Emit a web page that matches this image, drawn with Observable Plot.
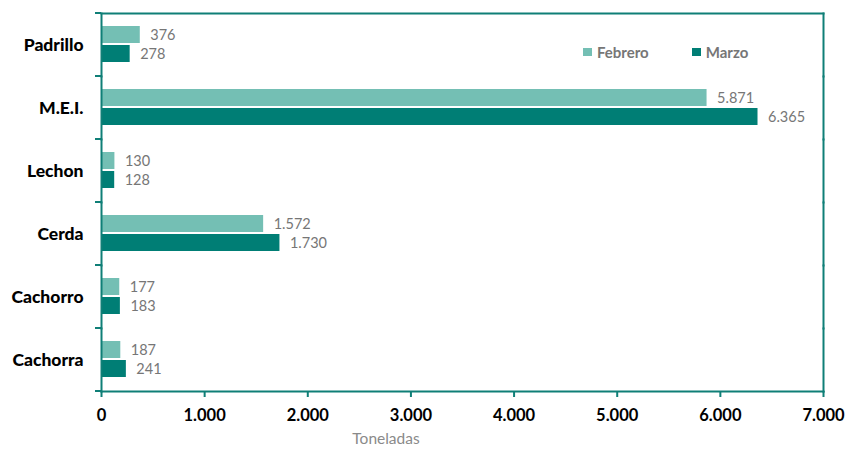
<!DOCTYPE html>
<html><head><meta charset="utf-8">
<script src="https://cdn.jsdelivr.net/npm/d3@7"></script>
<script src="https://cdn.jsdelivr.net/npm/@observablehq/plot@0.6"></script>
<style>
body{margin:0;background:#fff;font-family:Lato,"Open Sans",sans-serif}
#wrap{position:relative;width:848px;height:451px}
.legend{position:absolute;top:43px;left:583px;display:flex;font-weight:bold;font-size:15px;color:#767676}
.legend .item{display:flex;align-items:center;margin-right:43px}
.legend .sw{width:9px;height:8px;margin-right:5px}
.xlabel{position:absolute;left:316px;width:140px;top:429px;text-align:center;font-size:15.5px;color:#8a8a8a}
</style></head><body><div id="wrap"></div>
<script>
const categories = ["Padrillo","M.E.I.","Lechon","Cerda","Cachorro","Cachorra"];
const series = ["Febrero","Marzo"];
const febrero = [376,5871,130,1572,177,187];
const marzo = [278,6365,128,1730,183,241];
const xTicks = [0,1000,2000,3000,4000,5000,6000,7000];
const colors = ["#74bfb4","#007e75"];
const axisTitle = "Toneladas";

const data = categories.flatMap((c,i)=>[
  {cat:c, serie:series[0], value:febrero[i]},
  {cat:c, serie:series[1], value:marzo[i]}
]);
const loc = d3.formatLocale({decimal:",",thousands:".",grouping:[3],currency:["",""]});
const fmt = loc.format(",d");
const teal = "#0f7f77";

const chart = Plot.plot({
  width:848, height:451, marginLeft:101, marginRight:25, marginTop:10, marginBottom:58,
  style:{fontFamily:"Lato, 'Open Sans', sans-serif", background:"#fff"},
  x:{domain:[0,7000], label:null},
  y:{domain:series, axis:null, paddingInner:0.1, paddingOuter:0.69},
  fy:{domain:categories, padding:0, label:null, axis:null},
  color:{domain:series, range:colors},
  marks:[
    Plot.barX(data,{fy:"cat", y:"serie", x:"value", fill:"serie"}),
    Plot.text(data,{fy:"cat", y:"serie", x:"value", text:d=>fmt(d.value), textAnchor:"start", dx:10, fill:"#767676", fontSize:14.5}),
    Plot.axisX({ticks:xTicks, tickFormat:fmt, tickSize:6, stroke:teal, strokeWidth:2, fill:"#000", fontWeight:"bold", fontSize:16.5, tickPadding:12, label:null}),
    Plot.axisFy({anchor:"left", tickSize:0, tickPadding:18, fontWeight:900, fontSize:17.5, fill:"#000", label:null}),
    Plot.frame({anchor:"left", stroke:teal, strokeWidth:2}),
    Plot.frame({anchor:"right", stroke:teal, strokeWidth:2}),
    Plot.frame({anchor:"top", facetAnchor:"top", stroke:teal, strokeWidth:2}),
    Plot.frame({anchor:"bottom", facetAnchor:"bottom", stroke:teal, strokeWidth:2})
  ]
});
const wrap = document.getElementById("wrap");
wrap.appendChild(chart);

// boundary ticks on the category axis
const fy = chart.scale("fy");
const x = chart.scale("x");
const x0 = x.apply(0);
const bounds = categories.map(c=>fy.apply(c)).concat([fy.apply(categories[categories.length-1]) + fy.bandwidth]);
const svg = d3.select(chart);
svg.append("g").selectAll("line").data(bounds).join("line")
  .attr("x1", x0-6).attr("x2", x0).attr("y1", d=>d).attr("y2", d=>d)
  .attr("stroke", teal).attr("stroke-width", 2);

// legend
const lg = document.createElement("div");
lg.className = "legend";
series.forEach((s,i)=>{
  const it = document.createElement("div"); it.className="item";
  const sw = document.createElement("div"); sw.className="sw"; sw.style.background = colors[i];
  const t = document.createElement("span"); t.textContent = s;
  it.appendChild(sw); it.appendChild(t); lg.appendChild(it);
});
wrap.appendChild(lg);
const xl = document.createElement("div");
xl.className = "xlabel"; xl.textContent = axisTitle;
wrap.appendChild(xl);
</script>
</body></html>
